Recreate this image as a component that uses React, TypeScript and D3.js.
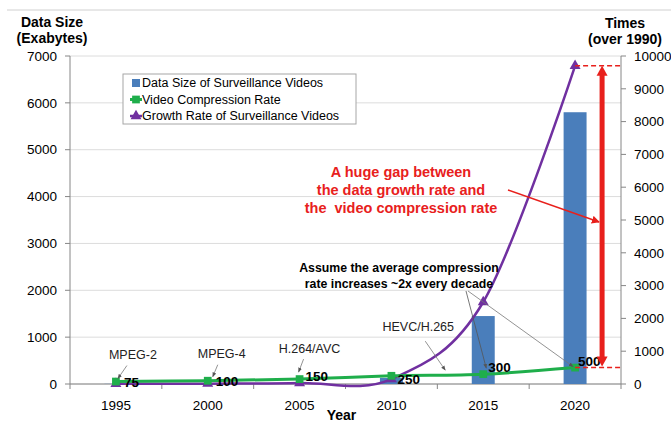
import React from 'react'
import * as d3 from 'd3'

// chart values
const years = ['1995', '2000', '2005', '2010', '2015', '2020']
const dataSize = [3, 10, 30, 130, 1450, 5800] // exabytes, left axis
const compressionRate = [75, 100, 150, 250, 300, 500] // times, right axis
const growthRate = [5, 10, 30, 150, 2500, 9700] // times over 1990, right axis
const leftTicks = [0, 1000, 2000, 3000, 4000, 5000, 6000, 7000]
const rightTicks = [0, 1000, 2000, 3000, 4000, 5000, 6000, 7000, 8000, 9000, 10000]
const legendItems = ['Data Size of Surveillance Videos', 'Video Compression Rate', 'Growth Rate of Surveillance Videos']
const codecLabels = ['MPEG-2', 'MPEG-4', 'H.264/AVC', '', 'HEVC/H.265', '']
const gapText = ['A huge gap between', 'the data growth rate and', 'the  video compression rate']
const assumeText = ['Assume the average compression', 'rate increases ~2x every decade']

const W = 671
const H = 422
const left = 70
const right = 621
const top = 56
const bottom = 384

const BLUE = '#4a7ebb'
const GREEN = '#1fae4b'
const PURPLE = '#7030a0'
const RED = '#e8201c'
const FONT = '"Liberation Sans", Arial, sans-serif'

// label offsets for value labels next to green markers
const valueOffsets: [number, number][] = [[8, 1], [8, 1], [6, -3], [6, 3], [5, -7], [3, -6]]
// codec label placement: [text dx, text dy, line start dx, dy, line end dx, dy]
const codecOffsets: number[][] = [
  [17, -23, 11, -16, 2, -3],
  [14, -23, 10, -16, 5, -4],
  [10, -26, 4, -20, -1, -7],
  [0, 0, 0, 0, 0, 0],
  [-65, -43, -58, -33, -38, -4],
  [0, 0, 0, 0, 0, 0]
]

const App: React.FC = () => {
  const x = d3.scalePoint<string>().domain(years).range([left, right]).padding(0.5)
  const step = x.step()
  const barW = step * 0.25
  const yL = d3.scaleLinear().domain([0, 7000]).range([bottom, top])
  const yR = d3.scaleLinear().domain([0, 10000]).range([bottom, top])

  const line = d3.line<number>()
    .x((_, i) => x(years[i])!)
    .y(d => yR(d))
    .curve(d3.curveCatmullRom.alpha(0))

  const tri = d3.symbol(d3.symbolTriangle, 52)()!
  const sq = d3.symbol(d3.symbolSquare, 60)()!

  const xs = x(years[5])!
  const arrowX = xs + 27
  const yTop = yR(growthRate[5])
  const yBot = yR(compressionRate[5])

  const boundaries = d3.range(years.length + 1).map(i => left + i * step)

  return (
    <svg width={W} height={H} style={{ position: 'absolute', left: 0, top: 0, background: '#fff' }} fontFamily={FONT}>
      <defs>
        <marker id="grayHead" viewBox="0 0 10 10" refX="9" refY="5" markerWidth="6" markerHeight="6" orient="auto">
          <path d="M0,1 L10,5 L0,9 z" fill="#555" />
        </marker>
        <marker id="redHead" viewBox="0 0 10 10" refX="9" refY="5" markerWidth="5" markerHeight="5" orient="auto">
          <path d="M0,0 L10,5 L0,10 z" fill={RED} />
        </marker>
      </defs>

      {/* frame top edge */}
      <line x1={7} x2={W} y1={10} y2={10} stroke="#d0d0d0" />

      {/* gridlines */}
      {leftTicks.map(t => (
        <line key={t} x1={left} x2={right} y1={yL(t)} y2={yL(t)} stroke="#dcdcdc" />
      ))}

      {/* left axis */}
      <line x1={left} x2={left} y1={top} y2={bottom} stroke="#868686" />
      {leftTicks.map(t => (
        <g key={t}>
          <line x1={left - 5} x2={left} y1={yL(t)} y2={yL(t)} stroke="#868686" />
          <text x={left - 13} y={yL(t)} dy="0.35em" textAnchor="end" fontSize={13.5} fill="#000">{t}</text>
        </g>
      ))}

      {/* right axis */}
      <line x1={right} x2={right} y1={top} y2={bottom} stroke="#868686" />
      {rightTicks.map(t => (
        <g key={t}>
          <line x1={right} x2={right + 5} y1={yR(t)} y2={yR(t)} stroke="#868686" />
          <text x={right + 13} y={yR(t)} dy="0.35em" fontSize={13.5} fill="#000">{t}</text>
        </g>
      ))}

      {/* x axis */}
      <line x1={left} x2={right} y1={bottom} y2={bottom} stroke="#868686" />
      {boundaries.map(b => (
        <line key={b} x1={b} x2={b} y1={bottom} y2={bottom + 5} stroke="#868686" />
      ))}
      {years.map(yr => (
        <text key={yr} x={x(yr)} y={410} textAnchor="middle" fontSize={13.5}>{yr}</text>
      ))}

      {/* axis titles */}
      <text x={52} y={27} textAnchor="middle" fontSize={14} fontWeight="bold">Data Size</text>
      <text x={52} y={43} textAnchor="middle" fontSize={14} fontWeight="bold">(Exabytes)</text>
      <text x={625} y={28} textAnchor="middle" fontSize={14} fontWeight="bold">Times</text>
      <text x={625} y={44} textAnchor="middle" fontSize={14} fontWeight="bold">(over 1990)</text>
      <text x={(left + right) / 2 - 4} y={420} textAnchor="middle" fontSize={14} fontWeight="bold">Year</text>

      {/* bars */}
      {dataSize.map((v, i) => (
        <rect key={i} x={x(years[i])! - barW / 2} y={yL(v)} width={barW} height={bottom - yL(v)} fill={BLUE} />
      ))}

      {/* growth rate */}
      <path d={line(growthRate)!} fill="none" stroke={PURPLE} strokeWidth={2.5} />
      {growthRate.map((v, i) => (
        <path key={i} d={tri} transform={`translate(${x(years[i])},${yR(v)})`} fill={PURPLE} />
      ))}

      {/* compression rate */}
      <path d={line(compressionRate)!} fill="none" stroke={GREEN} strokeWidth={3} />
      {compressionRate.map((v, i) => (
        <path key={i} d={sq} transform={`translate(${x(years[i])},${yR(v)})`} fill={GREEN} />
      ))}
      {compressionRate.map((v, i) => (
        <text key={i} x={x(years[i])! + valueOffsets[i][0]} y={yR(v) + valueOffsets[i][1]} dy="0.35em"
          fontSize={13.5} fontWeight="bold">{v}</text>
      ))}

      {/* codec labels */}
      {codecLabels.map((c, i) => {
        if (!c) return null
        const px = x(years[i])!
        const py = yR(compressionRate[i])
        const o = codecOffsets[i]
        return (
          <g key={c}>
            <text x={px + o[0]} y={py + o[1]} textAnchor="middle" fontSize={12.5} fill="#222">{c}</text>
            <line x1={px + o[2]} y1={py + o[3]} x2={px + o[4]} y2={py + o[5]} stroke="#777" strokeWidth={0.8}
              markerEnd="url(#grayHead)" />
          </g>
        )
      })}

      {/* assumption note */}
      {assumeText.map((t, i) => (
        <text key={i} x={399} y={272 + i * 16} textAnchor="middle" fontSize={12.3} fontWeight="bold">{t}</text>
      ))}
      <line x1={466} y1={291} x2={x(years[4])! + 3} y2={yR(compressionRate[4]) - 6} stroke="#555" strokeWidth={0.8}
        markerEnd="url(#grayHead)" />
      <line x1={468} y1={291} x2={xs - 2} y2={yBot - 1} stroke="#777" strokeWidth={0.8} markerEnd="url(#grayHead)" />

      {/* gap note */}
      {gapText.map((t, i) => (
        <text key={i} x={401} y={177 + i * 18} textAnchor="middle" fontSize={14.5} fontWeight="bold" fill={RED}
          style={{ whiteSpace: 'pre' }}>{t}</text>
      ))}
      <line x1={508} y1={190} x2={arrowX - 3} y2={222} stroke={RED} strokeWidth={1.6} markerEnd="url(#redHead)" />

      {/* gap arrow + dashed guides */}
      <line x1={xs} x2={right} y1={yTop} y2={yTop} stroke={RED} strokeWidth={1.5} strokeDasharray="5,3" />
      <line x1={xs} x2={right} y1={yBot} y2={yBot} stroke={RED} strokeWidth={1.5} strokeDasharray="5,3" />
      <rect x={arrowX - 2.5} y={yTop + 9} width={5} height={yBot - yTop - 18} fill={RED} />
      <path d={`M${arrowX},${yTop} L${arrowX + 5.5},${yTop + 10} L${arrowX - 5.5},${yTop + 10} z`} fill={RED} />
      <path d={`M${arrowX},${yBot - 1} L${arrowX + 5.5},${yBot - 11} L${arrowX - 5.5},${yBot - 11} z`} fill={RED} />

      {/* legend */}
      <rect x={123} y={74} width={233} height={50} fill="#fff" stroke="#a6a6a6" />
      {legendItems.map((name, i) => {
        const ly = 83 + i * 16.5
        return (
          <g key={name}>
            {i === 0 && <rect x={132} y={ly - 4} width={8} height={8} fill={BLUE} />}
            {i === 1 && (
              <g>
                <line x1={130} x2={142} y1={ly} y2={ly} stroke={GREEN} strokeWidth={3} />
                <path d={sq} transform={`translate(136,${ly})`} fill={GREEN} />
              </g>
            )}
            {i === 2 && (
              <g>
                <line x1={130} x2={142} y1={ly} y2={ly} stroke={PURPLE} strokeWidth={2.5} />
                <path d={tri} transform={`translate(136,${ly})`} fill={PURPLE} />
              </g>
            )}
            <text x={142} y={ly} dy="0.35em" fontSize={12.5}>{name}</text>
          </g>
        )
      })}
    </svg>
  )
}

export default App
